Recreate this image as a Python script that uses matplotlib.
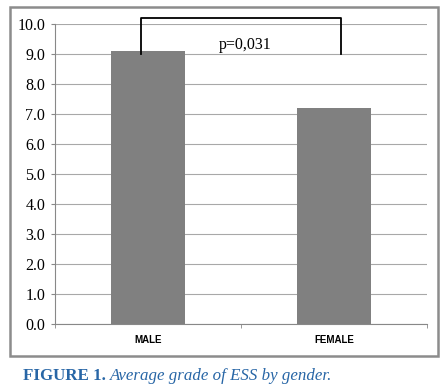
import numpy as np
import matplotlib
matplotlib.use("Agg")
import matplotlib.pyplot as plt
from matplotlib.patches import Rectangle

# chart data
categories = ["MALE", "FEMALE"]
mean_ess = [9.1, 7.2]
y_ticks = np.arange(0, 11, 1)
p_label = "p=0,031"
bracket_top = 10.2
bracket_leg = 9.0

fig = plt.figure(figsize=(4.48, 3.91), dpi=100)
ax = fig.add_axes([55 / 448, 67 / 391, 372 / 448, 300 / 391])

x = np.arange(len(categories))
ax.bar(x, mean_ess, width=0.4, color="#808080", zorder=3)

ax.set_xlim(-0.5, 1.5)
ax.set_ylim(0, 10)
ax.set_yticks(y_ticks)
ax.set_yticklabels([f"{v:.1f}" for v in y_ticks], family="Liberation Serif", fontsize=11.5)
ax.set_xticks(x)
ax.set_xticklabels(categories, family="Liberation Sans", fontweight="bold", fontsize=7)
ax.tick_params(axis="x", length=0, pad=8)
ax.tick_params(axis="y", length=3, color="#888888", pad=4)
# minor ticks at category boundaries on the x axis
ax.set_xticks([-0.5, 0.5, 1.5], minor=True)
ax.tick_params(axis="x", which="minor", length=3, color="#888888")

ax.grid(axis="y", color="#a8a8a8", linewidth=0.8, zorder=0)
for s in ["top", "right"]:
    ax.spines[s].set_visible(False)
for s in ["left", "bottom"]:
    ax.spines[s].set_color("#888888")
    ax.spines[s].set_linewidth(0.8)

# significance bracket
ax.plot([-0.035, -0.035, 1.035, 1.035], [bracket_leg, bracket_top, bracket_top, bracket_leg],
        color="black", linewidth=1.3, clip_on=False, zorder=5)
ax.text(0.52, 9.3, p_label, ha="center", va="center", family="Liberation Serif", fontsize=11.5)

# outer frame
fig.patches.append(Rectangle((10 / 448, 35 / 391), 428 / 448, 349 / 391, transform=fig.transFigure,
                             fill=False, edgecolor="#8c8c8c", linewidth=1.8))

# caption
cap_color = "#2866a6"
t1 = fig.text(23 / 448, 15 / 391, "FIGURE 1.", family="Liberation Serif", fontweight="bold",
              fontsize=12.2, color=cap_color, va="center")
fig.canvas.draw()
bb = t1.get_window_extent()
fig.text((bb.x1 + 4) / 448, 15 / 391, "Average grade of ESS by gender.", family="Liberation Serif",
         style="italic", fontsize=12.2, color=cap_color, va="center")

fig.savefig("out.png", dpi=100)
